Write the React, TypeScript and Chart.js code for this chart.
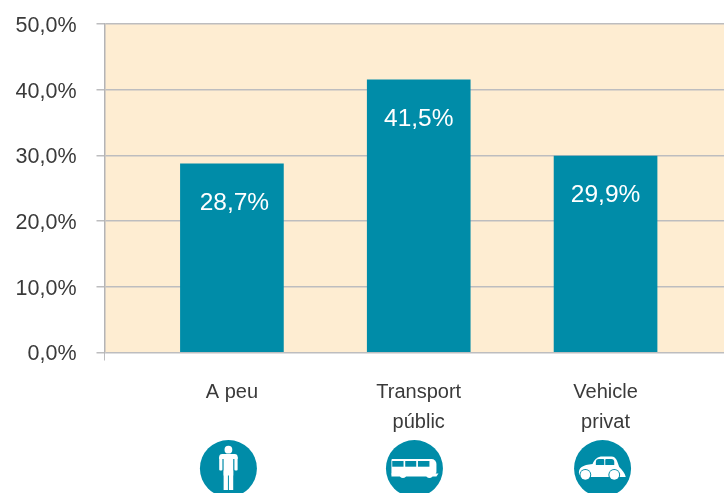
import React, { useEffect, useRef } from "react";
import { Chart, registerables } from "chart.js";

Chart.register(...registerables);

const categories: string[][] = [["A peu"], ["Transport", "públic"], ["Vehicle", "privat"]];
const values = [28.7, 41.5, 29.9];
const valueLabels = ["28,7%", "41,5%", "29,9%"];
const yTicks = [0, 10, 20, 30, 40, 50];
const icons = ["person", "bus", "car"];
const labelShift = [2.5, 0, 0];
const iconShift = [-3.5, -4.3, -3];

const TEAL = "#008CA8";
const GRID = "#BDBDBF";
const BG = "#FEEDD2";
const X_MIN = -0.682;
const X_MAX = 2.634;
const FONT = '"Liberation Sans", Arial, sans-serif';

function rr(c: CanvasRenderingContext2D, x: number, y: number, w: number, h: number, r: any) {
  c.beginPath();
  c.roundRect(x, y, w, h, r);
  c.fill();
}

function person(c: CanvasRenderingContext2D) {
  c.fillStyle = "#fff";
  c.beginPath();
  c.arc(0, -18.8, 3.9, 0, Math.PI * 2);
  c.fill();
  rr(c, -9.2, -14.5, 18.4, 5, [3, 3, 0, 0]);
  rr(c, -9.2, -12, 3.2, 14, 1);
  rr(c, 6, -12, 3.2, 14, 1);
  c.fillRect(-4.8, -13, 9.6, 20);
  c.fillRect(-4.8, 2, 4.3, 19.5);
  c.fillRect(0.5, 2, 4.3, 19.5);
}

function bus(c: CanvasRenderingContext2D) {
  c.fillStyle = "#fff";
  c.beginPath();
  c.roundRect(-23, -9.5, 45, 15.5, [1, 5, 3, 0]);
  c.fill();
  c.beginPath();
  c.moveTo(-23, 5);
  c.lineTo(24, 5);
  c.lineTo(22, 8);
  c.lineTo(-23, 8);
  c.closePath();
  c.fill();
  c.fillStyle = TEAL;
  c.fillRect(-22.2, -7.5, 11.3, 5.7);
  c.fillRect(-9.2, -7.5, 11, 5.7);
  c.fillRect(3.5, -7.5, 11.5, 5.7);
  c.fillStyle = "#fff";
  for (const x of [-11.5, 15]) {
    c.beginPath();
    c.arc(x, 6, 3.4, 0, Math.PI * 2);
    c.fill();
  }
}

function car(c: CanvasRenderingContext2D) {
  c.fillStyle = "#fff";
  c.beginPath();
  c.moveTo(-23.5, 6);
  c.bezierCurveTo(-24.5, -1, -20, -3.5, -10, -4.5);
  c.bezierCurveTo(-8, -9.5, -5, -12, 0, -12);
  c.lineTo(9, -12);
  c.bezierCurveTo(14, -12, 15, -6, 16.7, -1.5);
  c.bezierCurveTo(19.5, 1, 22.5, 5, 23.2, 8.5);
  c.lineTo(-20, 8.5);
  c.closePath();
  c.fill();
  c.fillStyle = TEAL;
  rr(c, -6.7, -9.5, 8.4, 6, [3, 1, 0, 0]);
  rr(c, 2.7, -9.5, 9, 6, [1, 3, 0, 0]);
  for (const x of [-17.2, 11.7]) {
    c.fillStyle = TEAL;
    c.beginPath();
    c.arc(x, 6.3, 5.9, 0, Math.PI * 2);
    c.fill();
    c.fillStyle = "#fff";
    c.beginPath();
    c.arc(x, 6.3, 4.9, 0, Math.PI * 2);
    c.fill();
  }
}

const painters: Record<string, (c: CanvasRenderingContext2D) => void> = { person, bus, car };

const extras = {
  id: "extras",
  beforeDraw(chart: any) {
    const { ctx, chartArea: a } = chart;
    ctx.save();
    ctx.fillStyle = BG;
    ctx.fillRect(a.left, a.top, a.right - a.left, a.bottom - a.top);
    ctx.restore();
  },
  afterDraw(chart: any) {
    const { ctx } = chart;
    const bars = chart.getDatasetMeta(0).data;
    ctx.save();
    ctx.fillStyle = "#fff";
    ctx.font = `24.5px ${FONT}`;
    ctx.textAlign = "center";
    ctx.textBaseline = "middle";
    bars.forEach((b: any, i: number) =>
      ctx.fillText(valueLabels[i], b.x + labelShift[i], b.y + 39)
    );
    bars.forEach((b: any, i: number) => {
      ctx.save();
      ctx.translate(b.x + iconShift[i], 468.5);
      ctx.fillStyle = TEAL;
      ctx.beginPath();
      ctx.arc(0, 0, 28.5, 0, Math.PI * 2);
      ctx.fill();
      painters[icons[i]](ctx);
      ctx.restore();
    });
    ctx.restore();
  },
};

export default function App() {
  const ref = useRef<HTMLCanvasElement>(null);
  useEffect(() => {
    const chart = new Chart(ref.current!, {
      type: "bar",
      data: {
        datasets: [
          {
            data: values.map((y, x) => ({ x, y })),
            backgroundColor: TEAL,
            barThickness: 103,
          },
        ],
      },
      options: {
        animation: false,
        responsive: false,
        layout: { padding: { top: 24, right: 0, bottom: 0, left: 0 } },
        plugins: { legend: { display: false }, tooltip: { enabled: false } },
        scales: {
          x: {
            type: "linear",
            min: X_MIN,
            max: X_MAX,
            offset: false,
            afterBuildTicks(s: any) {
              s.ticks = [{ value: X_MIN }, ...categories.map((_, i) => ({ value: i }))];
            },
            afterFit(s: any) {
              s.height = 140.5;
              s.paddingLeft = 0;
              s.paddingRight = 0;
            },
            grid: {
              offset: false,
              drawOnChartArea: false,
              tickLength: 8,
              tickColor: (ctx: any) => (ctx.index === 0 ? GRID : "rgba(0,0,0,0)"),
            },
            border: { display: false },
            ticks: {
              autoSkip: false,
              maxRotation: 0,
              padding: 17,
              color: "#3A3A3A",
              font: { family: FONT, size: 20, lineHeight: 1.5 },
              callback: (v: any) => (v === X_MIN ? "" : categories[v]),
            },
          },
          y: {
            min: 0,
            max: 50,
            afterBuildTicks(s: any) {
              s.ticks = yTicks.map((value) => ({ value }));
            },
            afterFit(s: any) {
              s.width = 104.5;
              s.paddingTop = 0;
              s.paddingBottom = 0;
            },
            grid: { color: GRID, lineWidth: 1.5, tickLength: 8, tickColor: GRID },
            border: { color: "#B4B4B6", width: 1.5 },
            ticks: {
              padding: 20,
              labelOffset: 2,
              color: "#3A3A3A",
              font: { family: FONT, size: 21.5 },
              callback: (v: any) => `${Number(v).toFixed(1).replace(".", ",")}%`,
            },
          },
        },
      },
      plugins: [extras],
    } as any);
    return () => chart.destroy();
  }, []);
  return (
    <canvas
      ref={ref}
      width={724}
      height={493}
      style={{ position: "fixed", left: 0, top: 0, display: "block" }}
    />
  );
}
